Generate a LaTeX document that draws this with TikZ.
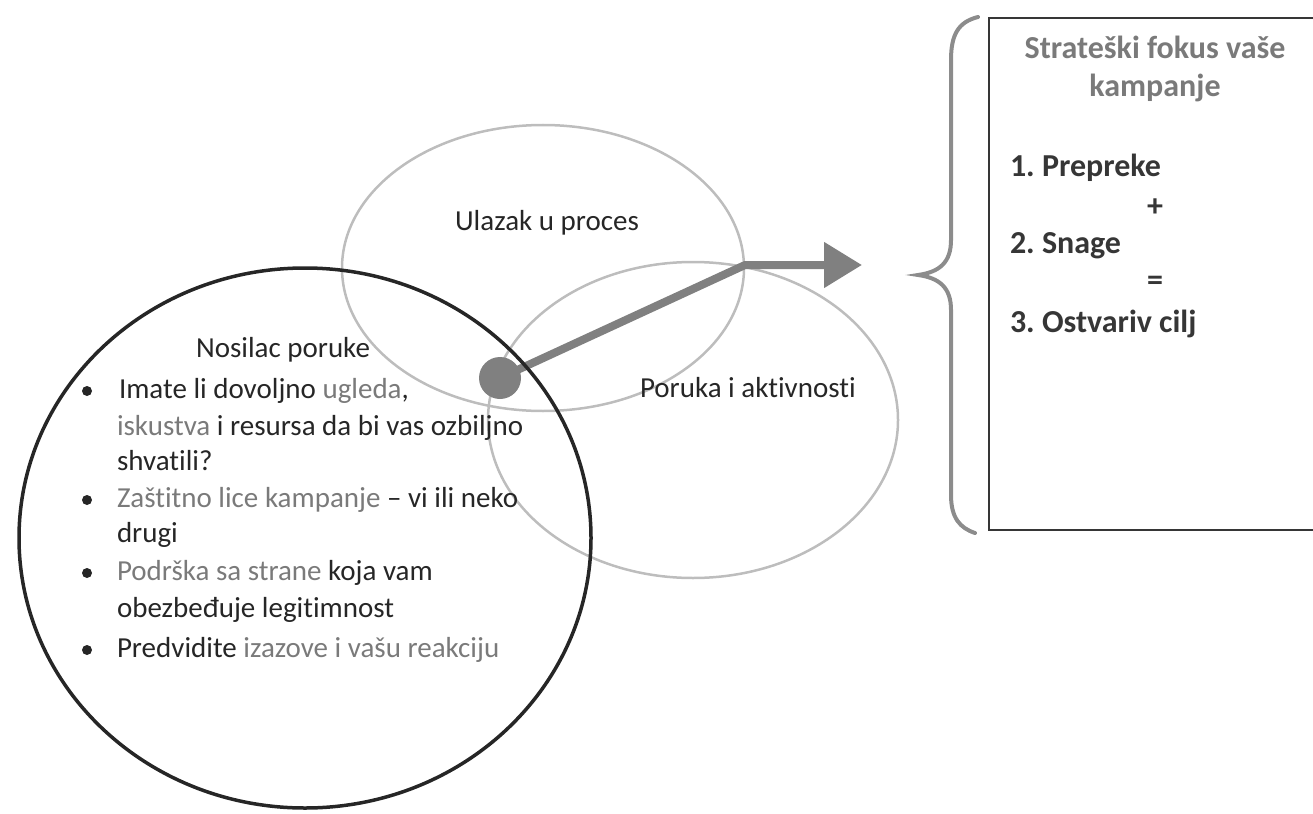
\documentclass[tikz,border=0pt]{standalone}
\usepackage{fontspec}
\setmainfont{Carlito}[Ligatures=NoCommon]
\usetikzlibrary{shapes.geometric,arrows.meta}
\definecolor{ink}{HTML}{262626}
\definecolor{greytext}{HTML}{7A7A7A}
\definecolor{ringgray}{HTML}{BDBDBD}
\definecolor{arrowgray}{HTML}{808080}
\definecolor{bracegray}{HTML}{8C8C8C}
\definecolor{boxtitle}{HTML}{7A7A7A}
\definecolor{boxink}{HTML}{363636}
\frenchspacing
\begin{document}
\begin{tikzpicture}[x=1pt,y=-1pt,
  every node/.style={inner sep=0pt,outer sep=0pt},
  ring/.style={draw=ringgray,line width=2.5pt,ellipse},
  carrierring/.style={draw=ink,line width=3.5pt,ellipse},
  txt/.style={font=\fontsize{29}{35}\selectfont,text=ink},
  boxtxt/.style={font=\bfseries\fontsize{32}{38}\selectfont,text=boxink},
  boxhead/.style={font=\bfseries\fontsize{32}{38}\selectfont,text=boxtitle},
  bulletdot/.style={circle,fill=ink,minimum size=10pt},
  hubdot/.style={circle,fill=arrowgray,minimum size=42pt},
  flow/.style={draw=arrowgray,line width=8pt,line join=round,-{Triangle[length=38pt,width=44pt]}},
  bracestyle/.style={draw=bracegray,line width=4pt,line cap=round},
  focusbox/.style={draw=boxink,line width=2pt,anchor=north west,minimum width=420pt,minimum height=512pt}
]
\useasboundingbox (0,0) rectangle (1313,813);
\clip (0,0) rectangle (1313,813);

% light ellipses
\node[ring,minimum width=402pt,minimum height=286pt] (enter) at (543,268) {};
\node[ring,minimum width=410pt,minimum height=316pt] (message) at (693,420) {};

% hub dot and arrow
\node[hubdot] (hub) at (500,378) {};
\coordinate (bend) at (745,265);
\coordinate (tip) at (862,265);
\draw[flow] (hub.center) -- (bend) -- (tip);

% black circle
\node[carrierring,minimum width=572pt,minimum height=540pt] (carrier) at (305,538) {};

% labels
\node[txt,anchor=base] (enterlbl) at (547,230) {Ulazak u proces};
\node[txt,anchor=base west] (msglbl) at (640,397) {Poruka i aktivnosti};
\node[txt,anchor=base] (carrierlbl) at (283,357) {Nosilac poruke};

% bullets
\node[bulletdot] (d1) at (87,391) {};
\node[bulletdot] (d2) at (87,500) {};
\node[bulletdot] (d3) at (87,573) {};
\node[bulletdot] (d4) at (87,650) {};

\node[txt,anchor=base west] (l1) at (119,398) {Imate li dovoljno \textcolor{greytext}{ugleda},};
\node[txt,anchor=base west] (l2) at (117,435) {\textcolor{greytext}{iskustva} i resursa da bi vas ozbiljno};
\node[txt,anchor=base west] (l3) at (117,470) {shvatili?};
\node[txt,anchor=base west] (l4) at (117,507) {\textcolor{greytext}{Zaštitno lice kampanje} – vi ili neko};
\node[txt,anchor=base west] (l5) at (117,542) {drugi};
\node[txt,anchor=base west] (l6) at (117,580) {\textcolor{greytext}{Podrška sa strane} koja vam};
\node[txt,anchor=base west] (l7) at (117,617) {obezbeđuje legitimnost};
\node[txt,anchor=base west] (l8) at (117,657) {Predvidite \textcolor{greytext}{izazove i vašu reakciju}};

% brace
\draw[bracestyle] (978,17) .. controls (958,22) and (951,35) .. (951,60)
  -- (951,240) .. controls (951,262) and (940,272) .. (918,275)
  .. controls (940,278) and (951,288) .. (951,310)
  -- (951,495) .. controls (951,518) and (960,528) .. (975,533);

% box
\node[focusbox] (focus) at (989,18) {};
\node[boxhead,anchor=base] (h1) at (1155,59) {Strateški fokus vaše};
\node[boxhead,anchor=base] (h2) at (1155,97) {kampanje};
\node[boxtxt,anchor=base west] (s1) at (1010,177) {1. Prepreke};
\node[boxtxt,anchor=center] (s2) at (1155,208) {+};
\node[boxtxt,anchor=base west] (s3) at (1010,253) {2. Snage};
\node[boxtxt,anchor=center] (s4) at (1155,283) {=};
\node[boxtxt,anchor=base west] (s5) at (1010,332) {3. Ostvariv cilj};
\end{tikzpicture}
\end{document}
